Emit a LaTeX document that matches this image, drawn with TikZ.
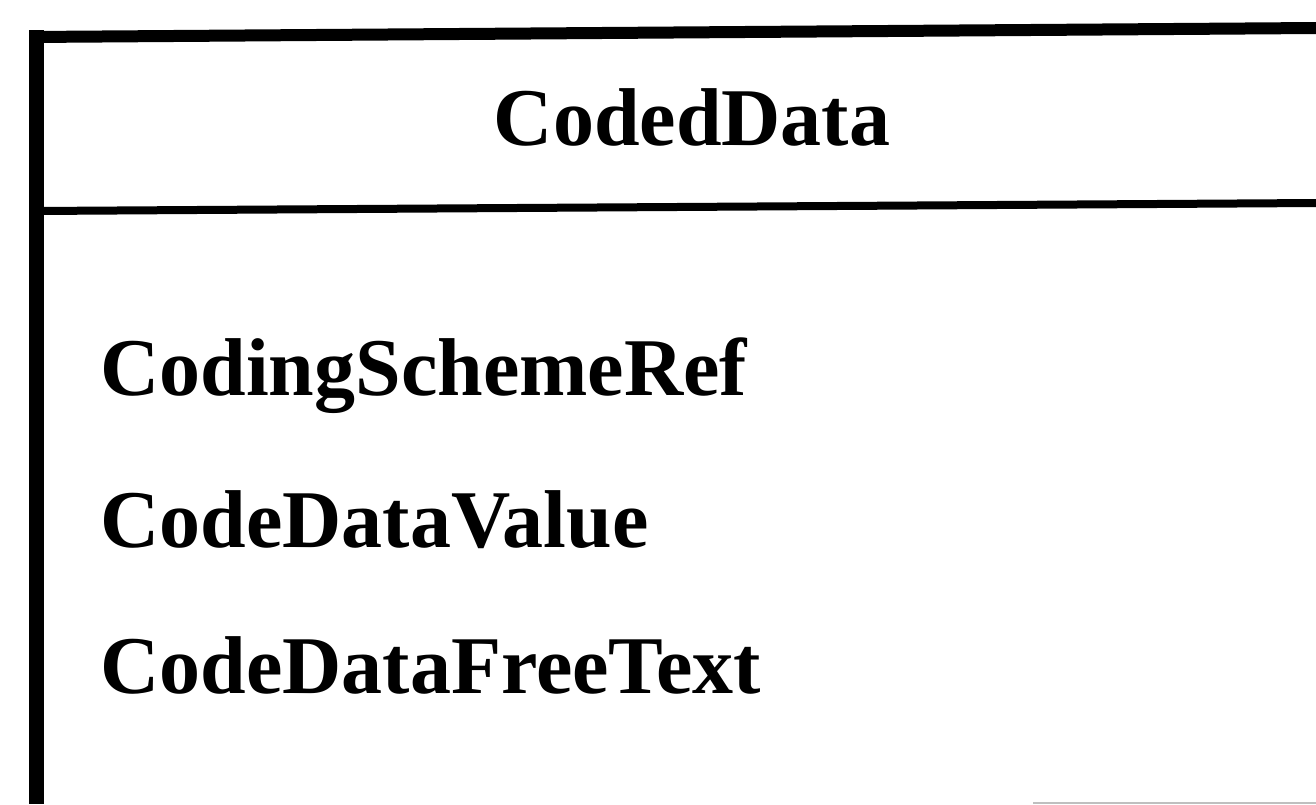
\documentclass[tikz,border=0pt]{standalone}
\usepackage{fontspec}
\setmainfont{Liberation Serif}
\usepackage{tikz}

\tikzset{
	classname/.style={inner sep=0, anchor=base, font=\fontsize{41}{49}\selectfont\bfseries},
	attr/.style={inner sep=0, anchor=base west, font=\fontsize{41}{49}\selectfont\bfseries}
}

\begin{document}
\begin{tikzpicture}[x=0.5pt, y=-0.5pt]
			\useasboundingbox (0, 0) rectangle (1316, 804);

			\draw[line width=7.5pt] (36, 30) -- (36, 804);
			\draw[line width=6pt] (30, 37) -- (1316, 28);
			\draw[line width=4pt] (36, 211) -- (1316, 203);
			\draw[line width=0.6pt, gray!50] (1033, 803) -- (1316, 803);

			\node[classname] (title) at (692, 145) {CodedData};

			\node[attr] (ref) at (100, 395) {CodingSchemeRef};
			\node[attr] (val) at (100, 547) {CodeDataValue};
			\node[attr] (txt) at (100, 693) {CodeDataFreeText};

		\end{tikzpicture}
\end{document}
